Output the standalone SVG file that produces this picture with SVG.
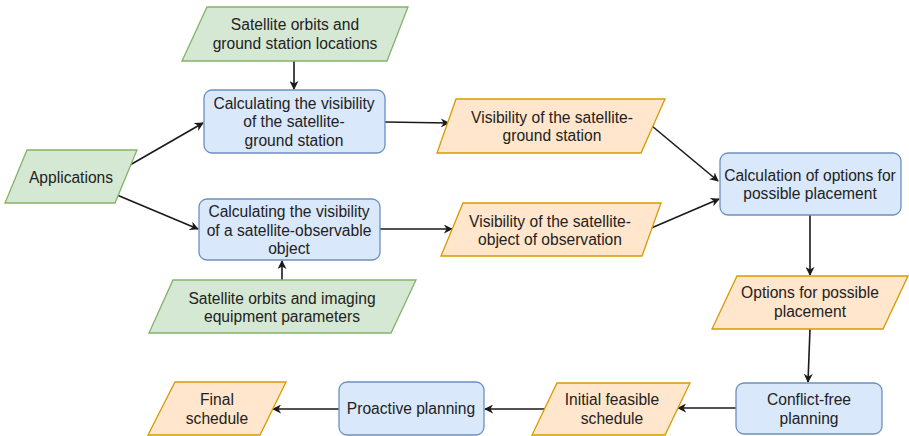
<svg xmlns="http://www.w3.org/2000/svg" width="909" height="436" viewBox="0 0 909 436">
<style>
.g{fill:#d5e8d4;stroke:#82b366;stroke-width:1.3}
.b{fill:#dae8fc;stroke:#6c8ebf;stroke-width:1.3}
.o{fill:#ffe6cc;stroke:#d79b00;stroke-width:1.3}
text{font-family:"Liberation Sans",Arial,sans-serif;font-size:15.6px;fill:#222;text-anchor:middle}
.c{fill:none;stroke:#1a1a1a;stroke-width:1.6;marker-end:url(#ah)}
</style>
<defs>
<marker id="ah" viewBox="0 0 10 10" refX="9" refY="5" markerWidth="9" markerHeight="9" markerUnits="userSpaceOnUse" orient="auto">
<path d="M0,0 L10,5 L0,10 L3,5 Z" fill="#1a1a1a"/>
</marker>
</defs>
<g id="connectors">
<line class="c" x1="294" y1="61" x2="294" y2="89"/>
<line class="c" x1="130" y1="165" x2="203" y2="123"/>
<line class="c" x1="117" y1="195" x2="198" y2="229"/>
<line class="c" x1="282" y1="280" x2="282" y2="261"/>
<line class="c" x1="385" y1="122" x2="449" y2="123"/>
<line class="c" x1="380" y1="229" x2="452" y2="229"/>
<line class="c" x1="652" y1="126" x2="718" y2="181"/>
<line class="c" x1="649" y1="229" x2="719" y2="199"/>
<line class="c" x1="810" y1="215" x2="810" y2="275"/>
<line class="c" x1="810" y1="329" x2="808" y2="382"/>
<line class="c" x1="736" y1="408" x2="678" y2="408"/>
<line class="c" x1="545" y1="409" x2="485" y2="409"/>
<line class="c" x1="339" y1="409" x2="273" y2="409"/>
</g>
<g id="in-ground">
<polygon class="g" points="207,7 408,7 387,61 182,61"/>
<text x="295" y="30">Satellite orbits and</text>
<text x="295" y="49">ground station locations</text>
</g>
<g id="calc-ground">
<rect class="b" x="204" y="90" width="181" height="63" rx="8"/>
<text x="294" y="109">Calculating the visibility</text>
<text x="294" y="127">of the satellite-</text>
<text x="294" y="146">ground station</text>
</g>
<g id="applications">
<polygon class="g" points="27,150 137,150 115,203 5,203"/>
<text x="71" y="183">Applications</text>
</g>
<g id="calc-object">
<rect class="b" x="199" y="199" width="181" height="61" rx="8"/>
<text x="289" y="217">Calculating the visibility</text>
<text x="289" y="236">of a satellite-observable</text>
<text x="289" y="254">object</text>
</g>
<g id="in-imaging">
<polygon class="g" points="173,280 416,280 391,333 149,333"/>
<text x="282" y="304">Satellite orbits and imaging</text>
<text x="282" y="322">equipment parameters</text>
</g>
<g id="vis-ground">
<polygon class="o" points="456,99 665,99 641,153 437,153"/>
<text x="552" y="123">Visibility of the satellite-</text>
<text x="552" y="141">ground station</text>
</g>
<g id="vis-object">
<polygon class="o" points="463,203 661,203 642,256 441,256"/>
<text x="550" y="227">Visibility of the satellite-</text>
<text x="550" y="245">object of observation</text>
</g>
<g id="calc-options">
<rect class="b" x="720" y="153" width="181" height="62" rx="8"/>
<text x="810" y="181">Calculation of options for</text>
<text x="810" y="199">possible placement</text>
</g>
<g id="options">
<polygon class="o" points="737,276 908,276 883,329 712,329"/>
<text x="810" y="298">Options for possible</text>
<text x="810" y="317">placement</text>
</g>
<g id="conflict-free">
<rect class="b" x="736" y="383" width="146" height="51" rx="8"/>
<text x="809" y="405">Conflict-free</text>
<text x="809" y="424">planning</text>
</g>
<g id="initial-schedule">
<polygon class="o" points="557,383 690,383 665,435 532,435"/>
<text x="612" y="405">Initial feasible</text>
<text x="612" y="424">schedule</text>
</g>
<g id="proactive">
<rect class="b" x="339" y="382" width="145" height="53" rx="8"/>
<text x="411" y="414">Proactive planning</text>
</g>
<g id="final-schedule">
<polygon class="o" points="175,382 286,382 260,435 148,435"/>
<text x="217" y="405">Final</text>
<text x="217" y="424">schedule</text>
</g>
</svg>
